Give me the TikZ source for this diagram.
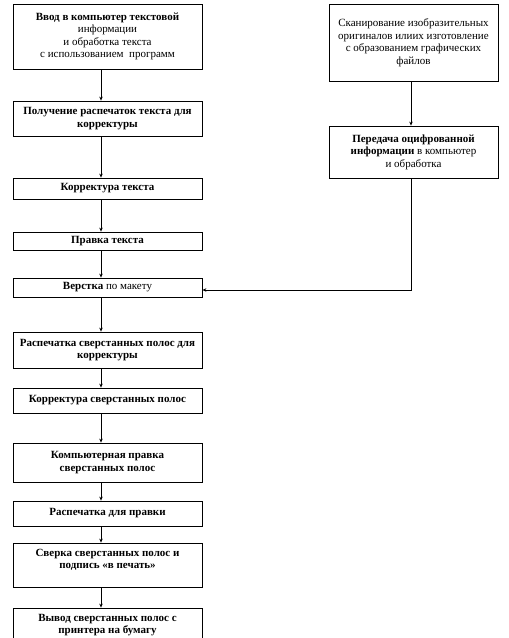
\documentclass[tikz,border=0pt]{standalone}
\usepackage{fontspec}
\setmainfont{Liberation Serif}
\usetikzlibrary{arrows.meta}
\begin{document}
\begin{tikzpicture}[x=1pt,y=-1pt,
  box/.style={draw, line width=0.8pt, align=center, inner sep=0pt, font=\fontsize{11}{12.5}\selectfont},
  lbox/.style={box, minimum width=189pt},
  rbox/.style={box, minimum width=169pt},
  arr/.style={line width=0.8pt, -{Stealth[length=4pt,width=3.5pt]}}]
\useasboundingbox (0,0) rectangle (509,638);
\coordinate (ax) at (101,0);
\coordinate (rx) at (411,0);
\node[lbox, minimum height=65pt] (b1) at (107.5,36.5) {\textbf{Ввод в компьютер текстовой}\\ информации\\ и обработка текста\\ с использованием\ \ программ};
\node[lbox, minimum height=35pt] (b2) at (107.5,118.5) {\textbf{Получение распечаток текста для}\\ \textbf{корректуры}};
\node[lbox, minimum height=21pt] (b3) at (107.5,188.5) {\textbf{Корректура текста}};
\node[lbox, minimum height=18pt] (b4) at (107.5,241) {\textbf{Правка текста}};
\node[lbox, minimum height=19pt] (b5) at (107.5,287.5) {\textbf{Верстка} по макету};
\node[lbox, minimum height=36pt] (b6) at (107.5,350) {\textbf{Распечатка сверстанных полос для}\\ \textbf{корректуры}};
\node[lbox, minimum height=25pt] (b7) at (107.5,400.5) {\textbf{Корректура сверстанных полос}};
\node[lbox, minimum height=39pt] (b8) at (107.5,462.5) {\textbf{Компьютерная правка}\\ \textbf{сверстанных полос}};
\node[lbox, minimum height=25pt] (b9) at (107.5,513.5) {\textbf{Распечатка для правки}};
\node[lbox, minimum height=44pt] (b10) at (107.5,565) {\textbf{Сверка сверстанных полос и}\\ \textbf{подпись «в печать»}\\[-4pt] \strut};
\node[lbox, minimum height=34pt] (b11) at (107.5,625) {\textbf{Вывод сверстанных полос с}\\ \textbf{принтера на бумагу}};
\node[rbox, minimum height=77pt] (r1) at (413.5,42.5) {Сканирование изобразительных\\ оригиналов илиих изготовление\\ с образованием графических\\ файлов};
\node[rbox, minimum height=52pt] (r2) at (413.5,152) {\textbf{Передача оцифрованной}\\ \textbf{информации} в компьютер\\ и обработка};
\draw[arr] (b1.south -| ax) -- (b2.north -| ax);
\draw[arr] (b2.south -| ax) -- (b3.north -| ax);
\draw[arr] (b3.south -| ax) -- (b4.north -| ax);
\draw[arr] (b4.south -| ax) -- (b5.north -| ax);
\draw[arr] (b5.south -| ax) -- (b6.north -| ax);
\draw[arr] (b6.south -| ax) -- (b7.north -| ax);
\draw[arr] (b7.south -| ax) -- (b8.north -| ax);
\draw[arr] (b8.south -| ax) -- (b9.north -| ax);
\draw[arr] (b9.south -| ax) -- (b10.north -| ax);
\draw[arr] (b10.south -| ax) -- (b11.north -| ax);
\draw[arr] (r1.south -| rx) -- (r2.north -| rx);
\draw[arr] (r2.south -| rx) |- ([yshift=-2.5pt]b5.east);
\end{tikzpicture}
\end{document}
